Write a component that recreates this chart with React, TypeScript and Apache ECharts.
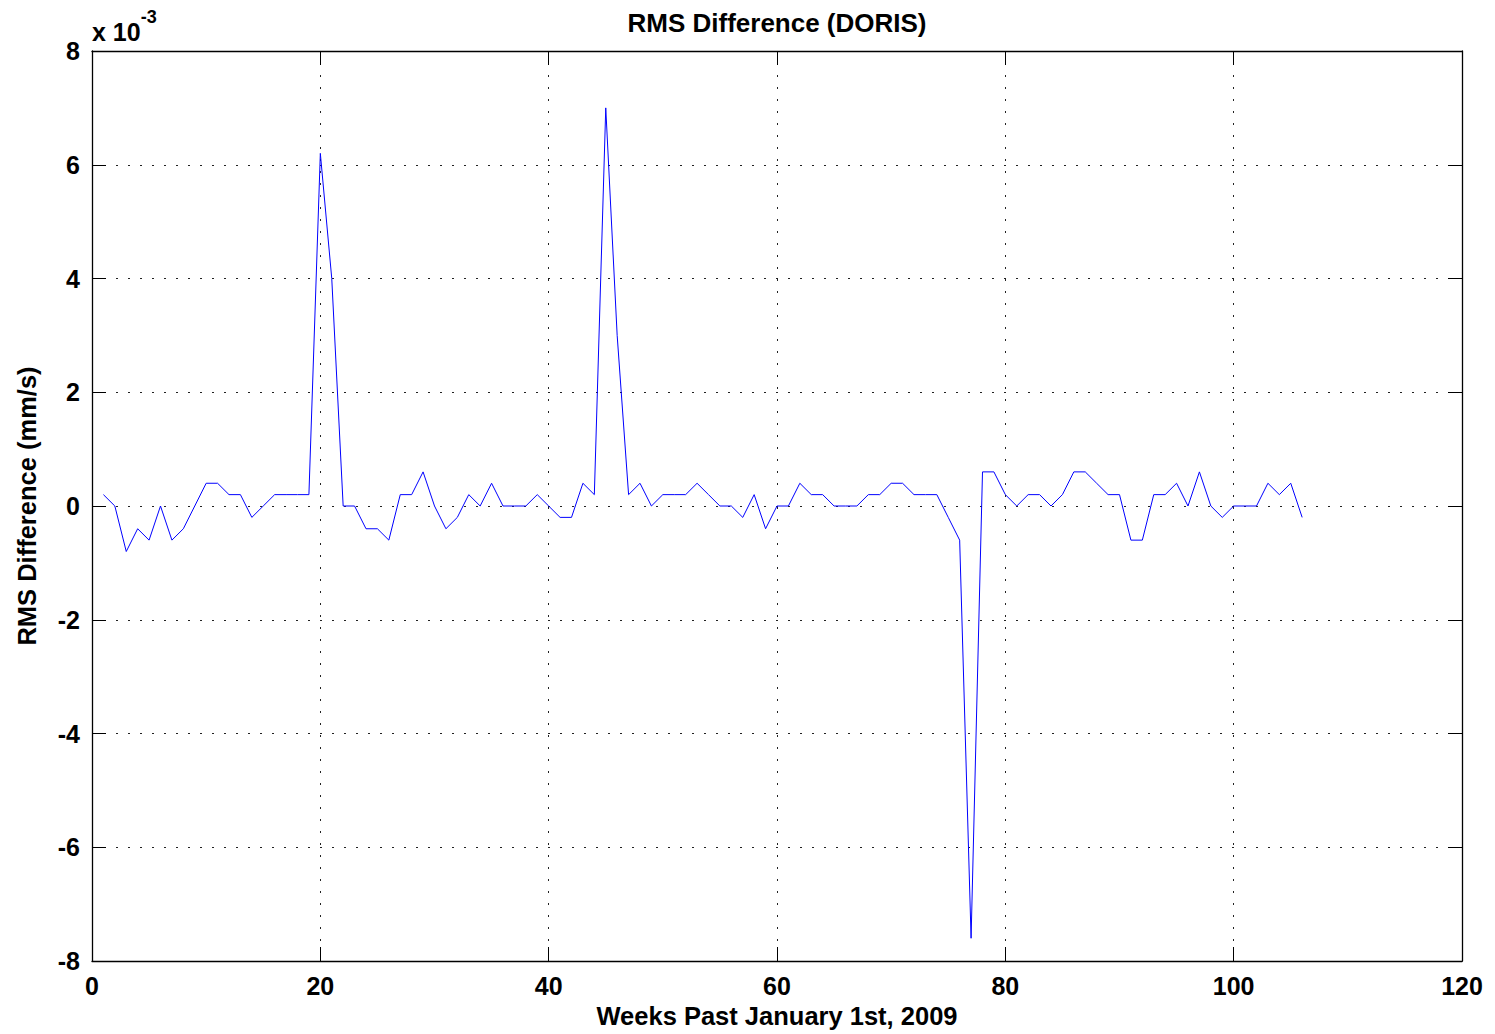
import React, { useEffect, useRef } from "react";
import * as echarts from "echarts";

// Weeks past January 1st, 2009
const weeks: number[] = Array.from({ length: 106 }, (_, i) => i + 1);
// RMS difference in units of 1e-3 mm/s
const rmsDiff: number[] = [
  0.2, 0, -0.8, -0.4, -0.6, 0, -0.6, -0.4, 0, 0.4,
  0.4, 0.2, 0.2, -0.2, 0, 0.2, 0.2, 0.2, 0.2, 6.2,
  4.0, 0, 0, -0.4, -0.4, -0.6, 0.2, 0.2, 0.6, 0,
  -0.4, -0.2, 0.2, 0, 0.4, 0, 0, 0, 0.2, 0,
  -0.2, -0.2, 0.4, 0.2, 7.0, 3.0, 0.2, 0.4, 0, 0.2,
  0.2, 0.2, 0.4, 0.2, 0, 0, -0.2, 0.2, -0.4, 0,
  0, 0.4, 0.2, 0.2, 0, 0, 0, 0.2, 0.2, 0.4,
  0.4, 0.2, 0.2, 0.2, -0.2, -0.6, -7.6, 0.6, 0.6, 0.2,
  0, 0.2, 0.2, 0, 0.2, 0.6, 0.6, 0.4, 0.2, 0.2,
  -0.6, -0.6, 0.2, 0.2, 0.4, 0, 0.6, 0, -0.2, 0,
  0, 0, 0.4, 0.2, 0.4, -0.2,
];

const titleText = "RMS Difference (DORIS)";
const xName = "Weeks Past January 1st, 2009";
const yName = "RMS Difference (mm/s)";

const FONT = "Liberation Sans, Arial, sans-serif";

export default function App() {
  const ref = useRef<HTMLDivElement>(null);
  useEffect(() => {
    if (!ref.current) return;
    const chart = echarts.init(ref.current, undefined, { renderer: "svg" });
    const dotted = { color: "#222", width: 1, type: [2, 10] as number[] };
    const labelStyle = { color: "#000", fontSize: 25, fontWeight: "bold" as const, fontFamily: FONT };
    const nameStyle = { ...labelStyle, fontSize: 25.5 };
    const tick = { show: true, inside: true, length: 14, lineStyle: { color: "#000", width: 1 } };
    const axisLine = { show: true, onZero: false, lineStyle: { color: "#000", width: 1.3 } };
    chart.setOption({
      animation: false,
      backgroundColor: "#fff",
      title: {
        text: titleText,
        left: 772,
        textAlign: "center",
        top: 5,
        textStyle: { ...labelStyle, fontSize: 26 },
      },
      grid: { left: 92, right: 33, top: 51, bottom: 72, containLabel: false },
      graphic: [
        {
          type: "text",
          left: 92,
          top: 8,
          style: {
            text: "{a|x 10}{b|-3}",
            rich: {
              a: { fontSize: 25, fontWeight: "bold", fontFamily: FONT, fill: "#000", padding: [16, 0, 0, 0] },
              b: { fontSize: 18, fontWeight: "bold", fontFamily: FONT, fill: "#000", padding: [0, 0, 14, 0] },
            },
          },
        },
      ],
      xAxis: [
        {
          type: "value",
          min: 0,
          max: 120,
          interval: 20,
          position: "bottom",
          name: xName,
          nameLocation: "middle",
          nameGap: 42,
          nameTextStyle: nameStyle,
          axisLine,
          axisTick: tick,
          axisLabel: { ...labelStyle, margin: 12 },
          splitLine: { show: true, lineStyle: dotted },
        },
        {
          type: "value",
          min: 0,
          max: 120,
          interval: 20,
          position: "top",
          axisLine,
          axisTick: tick,
          axisLabel: { show: false },
          splitLine: { show: false },
        },
      ],
      yAxis: [
        {
          type: "value",
          min: -8,
          max: 8,
          interval: 2,
          position: "left",
          name: yName,
          nameLocation: "middle",
          nameGap: 52,
          nameTextStyle: nameStyle,
          axisLine,
          axisTick: tick,
          axisLabel: { ...labelStyle, margin: 12 },
          splitLine: { show: true, lineStyle: dotted },
        },
        {
          type: "value",
          min: -8,
          max: 8,
          interval: 2,
          position: "right",
          axisLine,
          axisTick: tick,
          axisLabel: { show: false },
          splitLine: { show: false },
        },
      ],
      series: [
        {
          type: "line",
          data: weeks.map((w, i) => [w, rmsDiff[i]]),
          showSymbol: false,
          symbol: "none",
          lineStyle: { color: "#0000ff", width: 1 },
          itemStyle: { color: "#0000ff" },
        },
      ],
    });
    return () => chart.dispose();
  }, []);
  return (
    <div
      ref={ref}
      style={{ position: "fixed", left: 0, top: 0, width: 1495, height: 1034, background: "#fff" }}
    />
  );
}
